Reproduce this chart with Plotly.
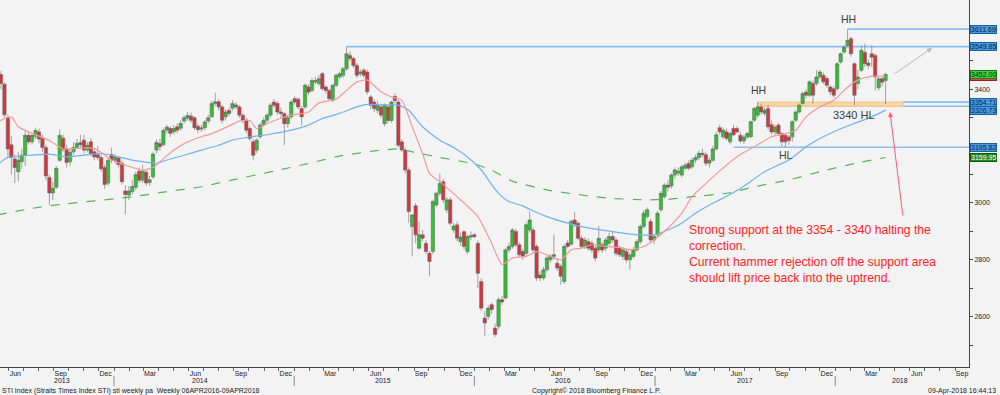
import pandas as pd
import plotly.graph_objects as go

# ---------------- data (weekly STI candles) ----------------
first_week = "2013-05-10"

opens = [
    3385, 3452, 3418, 3300, 3205, 3155, 3110, 3145, 3168, 3238,
    3215, 3235, 3250, 3228, 3195, 3090, 3035, 3055, 3150, 3228,
    3190, 3145, 3180, 3195, 3212, 3221, 3186, 3215, 3180, 3170,
    3160, 3125, 3070, 3170, 3150, 3158, 3140, 3042, 3028, 3040,
    3055, 3112, 3080, 3108, 3072, 3092, 3186, 3209, 3205, 3256,
    3262, 3250, 3268, 3263, 3288, 3298, 3306, 3300, 3270, 3260,
    3265, 3288, 3303, 3350, 3356, 3338, 3303, 3326, 3333, 3345,
    3338, 3309, 3291, 3262, 3215, 3186, 3233, 3276, 3291, 3309,
    3355, 3350, 3320, 3314, 3279, 3303, 3367, 3365, 3332, 3338,
    3408, 3396, 3431, 3420, 3455, 3408, 3396, 3362, 3414, 3443,
    3449, 3472, 3519, 3508, 3484, 3455, 3467, 3461, 3373, 3355,
    3326, 3338, 3279, 3338, 3290, 3375, 3355, 3215, 3186, 3116,
    2917, 2990, 2841, 2888, 2858, 2823, 2829, 2993, 3034, 3075,
    2976, 3011, 2905, 2923, 2864, 2899, 2829, 2880, 2888, 2858,
    2724, 2595, 2601, 2642, 2560, 2566, 2660, 2666, 2835, 2847,
    2900, 2853, 2829, 2823, 2905, 2905, 2847, 2747, 2736, 2765,
    2800, 2812, 2788, 2777, 2724, 2859, 2855, 2940, 2929, 2876,
    2847, 2864, 2858, 2841, 2835, 2853, 2841, 2858, 2882, 2870,
    2841, 2812, 2829, 2800, 2812, 2835, 2864, 2917, 2952, 2935,
    2870, 2888, 2976, 3022, 3063, 3060, 3098, 3105, 3098, 3122,
    3139, 3127, 3151, 3160, 3175, 3170, 3140, 3150, 3190, 3265,
    3233, 3250, 3215, 3262, 3262, 3238, 3218, 3232, 3233, 3291,
    3309, 3338, 3315, 3332, 3275, 3250, 3274, 3244, 3238, 3232,
    3233, 3291, 3320, 3350, 3390, 3379, 3420, 3420, 3443, 3449,
    3438, 3408, 3402, 3402, 3496, 3531, 3554, 3578, 3490, 3420,
    3467, 3530, 3492, 3525, 3519, 3405, 3437, 3431,
]
highs = [
    3462, 3465, 3425, 3310, 3235, 3170, 3180, 3190, 3255, 3250,
    3245, 3265, 3262, 3240, 3205, 3100, 3075, 3130, 3258, 3240,
    3205, 3190, 3215, 3225, 3240, 3240, 3215, 3228, 3190, 3200,
    3170, 3135, 3160, 3195, 3172, 3165, 3150, 3062, 3060, 3080,
    3110, 3125, 3135, 3115, 3095, 3180, 3225, 3225, 3262, 3275,
    3270, 3275, 3280, 3290, 3308, 3320, 3318, 3305, 3280, 3275,
    3292, 3310, 3360, 3388, 3365, 3345, 3330, 3335, 3362, 3355,
    3345, 3315, 3300, 3270, 3225, 3228, 3282, 3300, 3315, 3352,
    3365, 3358, 3335, 3320, 3310, 3362, 3375, 3372, 3340, 3420,
    3418, 3440, 3445, 3450, 3462, 3415, 3402, 3420, 3455, 3462,
    3478, 3549.85, 3535, 3515, 3492, 3470, 3475, 3470, 3380, 3365,
    3360, 3350, 3350, 3345, 3360, 3385, 3362, 3225, 3195, 3125,
    2960, 3000, 2935, 2905, 2870, 2830, 3012, 3040, 3104, 3085,
    3020, 3020, 2930, 2935, 2895, 2905, 2890, 2900, 2895, 2868,
    2735, 2620, 2640, 2650, 2575, 2668, 2672, 2842, 2860, 2912,
    2910, 2862, 2840, 2930, 2970, 2915, 2855, 2760, 2775, 2815,
    2820, 2888, 2800, 2785, 2855, 2870, 2942, 2968, 2935, 2885,
    2880, 2875, 2868, 2850, 2920, 2862, 2880, 2895, 2898, 2878,
    2850, 2845, 2838, 2825, 2845, 2872, 2925, 2975, 2985, 2945,
    2890, 2972, 3042, 3070, 3080, 3105, 3125, 3125, 3135, 3142,
    3150, 3160, 3170, 3185, 3190, 3180, 3160, 3200, 3250, 3275,
    3265, 3262, 3250, 3275, 3270, 3250, 3240, 3250, 3290, 3338,
    3354.71, 3350, 3335, 3345, 3290, 3275, 3282, 3250, 3245, 3240,
    3292, 3325, 3350, 3392, 3400, 3432, 3430, 3467, 3467, 3458,
    3445, 3415, 3410, 3495, 3530, 3555, 3611.69, 3585, 3495, 3468,
    3554, 3560, 3505, 3554, 3525, 3445, 3445, 3458,
]
lows = [
    3375, 3400, 3300, 3160, 3100, 3070, 3075, 3120, 3130, 3205,
    3205, 3225, 3210, 3180, 3080, 2993, 3010, 3050, 3145, 3180,
    3125, 3130, 3170, 3190, 3195, 3175, 3178, 3165, 3150, 3150,
    3110, 3050, 3060, 3140, 3140, 3125, 3065, 2960, 3010, 3030,
    3045, 3070, 3070, 3060, 3060, 3085, 3175, 3185, 3200, 3245,
    3232, 3240, 3245, 3255, 3280, 3290, 3282, 3255, 3245, 3250,
    3255, 3280, 3300, 3340, 3325, 3280, 3290, 3305, 3325, 3330,
    3300, 3280, 3245, 3218, 3150, 3175, 3225, 3268, 3280, 3300,
    3335, 3310, 3300, 3203, 3265, 3295, 3345, 3330, 3274, 3330,
    3380, 3390, 3418, 3412, 3395, 3385, 3360, 3355, 3408, 3435,
    3440, 3465, 3500, 3475, 3440, 3445, 3440, 3382, 3330, 3320,
    3315, 3300, 3270, 3280, 3282, 3350, 3195, 3180, 3105, 2930,
    2812, 2858, 2835, 2865, 2820, 2742, 2820, 2985, 3025, 3000,
    2965, 2920, 2895, 2865, 2850, 2835, 2820, 2870, 2875, 2700,
    2620, 2531, 2590, 2610, 2528, 2555, 2640, 2660, 2825, 2840,
    2845, 2810, 2800, 2815, 2895, 2825, 2725, 2725, 2728, 2755,
    2790, 2800, 2760, 2712, 2715, 2840, 2850, 2915, 2870, 2840,
    2838, 2832, 2825, 2795, 2825, 2825, 2830, 2850, 2860, 2812,
    2810, 2800, 2790, 2765, 2805, 2828, 2855, 2910, 2945, 2860,
    2855, 2880, 2968, 3015, 3040, 3050, 3085, 3095, 3090, 3115,
    3115, 3120, 3140, 3150, 3160, 3130, 3125, 3145, 3185, 3240,
    3225, 3220, 3205, 3235, 3245, 3210, 3208, 3225, 3228, 3285,
    3300, 3310, 3305, 3258, 3240, 3240, 3235, 3198, 3195.82, 3205,
    3215, 3285, 3315, 3345, 3368, 3372, 3350, 3412, 3435, 3418,
    3405, 3380, 3370, 3395, 3490, 3525, 3548, 3515, 3344, 3400,
    3460, 3478, 3470, 3478, 3396, 3396, 3410, 3348,
]
closes = [
    3449, 3420, 3310, 3190, 3160, 3125, 3150, 3168, 3238, 3215,
    3238, 3255, 3225, 3195, 3095, 3035, 3052, 3122, 3238, 3188,
    3142, 3178, 3195, 3210, 3205, 3186, 3203, 3174, 3162, 3160,
    3120, 3065, 3150, 3152, 3162, 3135, 3075, 3030, 3042, 3058,
    3100, 3080, 3112, 3070, 3082, 3172, 3213, 3198, 3255, 3267,
    3245, 3262, 3256, 3280, 3300, 3308, 3291, 3265, 3258, 3264,
    3285, 3300, 3350, 3356, 3338, 3291, 3320, 3315, 3350, 3338,
    3309, 3291, 3256, 3227, 3168, 3221, 3274, 3290, 3309, 3344,
    3344, 3320, 3315, 3279, 3300, 3355, 3355, 3338, 3303, 3414,
    3390, 3431, 3426, 3437, 3402, 3396, 3367, 3414, 3449, 3455,
    3472, 3525, 3508, 3484, 3449, 3461, 3449, 3391, 3344, 3332,
    3344, 3309, 3344, 3290, 3355, 3360, 3203, 3186, 3116, 2970,
    2958, 2888, 2888, 2876, 2829, 2794, 3005, 3034, 3069, 3011,
    3011, 2929, 2919, 2876, 2880, 2847, 2882, 2885, 2882, 2753,
    2630, 2578, 2630, 2625, 2537, 2660, 2652, 2835, 2847, 2905,
    2853, 2818, 2812, 2923, 2940, 2835, 2736, 2736, 2765, 2806,
    2812, 2818, 2771, 2742, 2847, 2847, 2935, 2925, 2876, 2847,
    2870, 2841, 2835, 2806, 2876, 2835, 2870, 2882, 2870, 2823,
    2818, 2835, 2800, 2817, 2835, 2864, 2917, 2964, 2976, 2870,
    2882, 2964, 3034, 3063, 3055, 3098, 3116, 3112, 3127, 3133,
    3122, 3151, 3160, 3175, 3170, 3140, 3150, 3190, 3240, 3250,
    3256, 3227, 3244, 3240, 3250, 3218, 3232, 3244, 3286, 3332,
    3338, 3320, 3326, 3268, 3250, 3267, 3244, 3215, 3215, 3220,
    3286, 3320, 3344, 3385, 3379, 3426, 3379, 3443, 3461, 3426,
    3414, 3391, 3379, 3490, 3525, 3548, 3572, 3525, 3379, 3443,
    3537, 3490, 3484, 3513, 3443, 3437, 3425, 3452,
]
assert len(opens) == len(highs) == len(lows) == len(closes) == 258

# moving averages (week index -> value)
fast_ma_week = [0, 4, 6, 10, 15, 19, 23, 28, 33, 37, 42, 45, 47, 51, 55, 59, 62, 66, 70, 73,
                75, 79, 85, 90, 93, 98, 101, 104, 107, 111, 114, 117, 120, 123, 125, 128, 133, 139, 143, 146,
                149, 153, 156, 159, 163, 166, 169, 172, 176, 180, 183, 187, 190, 194, 198, 201, 205, 209, 214, 219,
                224, 228, 231, 234, 238, 242, 245, 248, 250, 253, 257]
fast_ma_val = [3285, 3303, 3268, 3245, 3220, 3190, 3192, 3192, 3152, 3133, 3116, 3125, 3145, 3186, 3215, 3233, 3244, 3265, 3288, 3290,
               3262, 3285, 3309, 3320, 3352, 3365, 3396, 3426, 3432, 3391, 3373, 3361, 3268, 3174, 3104, 3075, 3022, 2952, 2858, 2783,
               2806, 2812, 2829, 2818, 2800, 2835, 2841, 2853, 2847, 2844, 2835, 2847, 2870, 2911, 2964, 3022, 3069, 3113, 3163, 3198,
               3233, 3244, 3256, 3303, 3338, 3361, 3396, 3426, 3437, 3446, 3446.2]
mid_ma_week = [0, 3, 10, 15, 20, 25, 30, 35, 39, 44, 46, 49, 54, 59, 64, 68, 73, 78, 85, 90,
               94, 99, 104, 107, 111, 116, 119, 123, 128, 132, 136, 140, 143, 145, 148, 152, 154, 159, 165, 169,
               178, 185, 190, 194, 198, 202, 207, 209, 215, 222, 229, 234, 238, 243, 248, 253, 257]
mid_ma_val = [3135, 3160, 3168, 3172, 3162, 3168, 3174, 3162, 3151, 3142, 3139, 3151, 3168, 3186, 3203, 3221, 3232, 3240, 3256, 3274,
              3297, 3315, 3338, 3347, 3345, 3344, 3326, 3268, 3221, 3195, 3162, 3116, 3065, 3034, 3005, 2990, 2978, 2952, 2929, 2917,
              2899, 2888, 2888, 2905, 2929, 2964, 2999, 3011, 3051, 3110, 3151, 3198, 3227, 3256, 3280, 3303, 3326.73]
slow_ma_week = [0, 10, 17, 39, 49, 59, 68, 80, 90, 99, 109, 116, 120, 128, 138, 143, 149, 159, 169, 178,
                188, 194, 201, 212, 219, 229, 238, 248, 257]
slow_ma_val = [2958, 2981, 2993, 3022, 3040, 3057, 3081, 3112, 3139, 3165, 3183, 3190, 3180, 3160, 3137, 3115, 3077, 3046, 3028, 3016,
               3011, 3013, 3022, 3036, 3057, 3081, 3110, 3139, 3159.95]

# levels
level_values = [3611.69, 3549.85, 3354.71, 3340.00, 3195.82]
level_start_week = [246, 101, None, None, 213]
support_low, support_high = 3340.00, 3354.71
support_start_week = 220
support_end = "2018-05-18"

# axis labels
x_range = ["2013-05-15", "2018-09-29"]
month_label_dates = ["2013-06-15", "2013-09-15", "2013-12-15",
                     "2014-03-15", "2014-06-15", "2014-09-15", "2014-12-15",
                     "2015-03-15", "2015-06-15", "2015-09-15", "2015-12-15",
                     "2016-03-15", "2016-06-15", "2016-09-15", "2016-12-15",
                     "2017-03-15", "2017-06-15", "2017-09-15", "2017-12-15",
                     "2018-03-15", "2018-06-15", "2018-09-15"]
month_label_text = ["Jun", "Sep", "Dec"] + ["Mar", "Jun", "Sep", "Dec"] * 4 + ["Mar", "Jun", "Sep"]
year_labels = ["2013", "2014", "2015", "2016", "2017", "2018"]
year_label_dates = ["2013-09-18", "2014-06-24", "2015-06-30", "2016-06-29", "2017-07-03", "2018-05-13"]
year_starts = ["2014-01-01", "2015-01-01", "2016-01-01", "2017-01-01", "2018-01-01"]
y_tick_vals = [2500, 2600, 2700, 2800, 2900, 3000, 3100, 3200, 3300, 3400, 3500, 3600]
y_tick_text = ["", "2600", "", "2800", "", "3000", "", "", "", "3400", "", ""]

weeks = pd.date_range(first_week, periods=len(closes), freq="7D")

BG = "#f3f3f3"
TXT_FONT = "Liberation Sans, Arial, sans-serif"
NOTE_FONT = "Liberation Sans, Arial, sans-serif"

fig = go.Figure()

fig.add_trace(go.Scatter(x=weeks[slow_ma_week], y=slow_ma_val, mode="lines",
                         line=dict(color="#56b356", width=1.2, dash="dash", shape="spline", smoothing=0.6),
                         hoverinfo="skip", showlegend=False))
fig.add_trace(go.Scatter(x=weeks[mid_ma_week], y=mid_ma_val, mode="lines",
                         line=dict(color="#6fb3ee", width=1.2, shape="spline", smoothing=0.6),
                         hoverinfo="skip", showlegend=False))
fig.add_trace(go.Scatter(x=weeks[fast_ma_week], y=fast_ma_val, mode="lines",
                         line=dict(color="#f39a9a", width=1.2, shape="spline", smoothing=0.6),
                         hoverinfo="skip", showlegend=False))

fig.add_trace(go.Candlestick(
    x=weeks, open=opens, high=highs, low=lows, close=closes,
    increasing=dict(line=dict(color="#6a6a6a", width=0.6), fillcolor="#30c030"),
    decreasing=dict(line=dict(color="#6a6a6a", width=0.6), fillcolor="#d6343c"),
    whiskerwidth=0, hoverinfo="skip", showlegend=False))

shapes = []
# support band
shapes.append(dict(type="rect", xref="x", yref="y", x0=weeks[support_start_week], x1=support_end,
                   y0=support_low, y1=support_high, fillcolor="rgba(249,206,143,0.75)",
                   line=dict(color="rgba(240,185,110,0.9)", width=1), layer="below"))
for val, sw in zip(level_values, level_start_week):
    x0 = weeks[sw] if sw is not None else support_end
    shapes.append(dict(type="line", xref="x", yref="y", x0=x0, x1=x_range[1], y0=val, y1=val,
                       line=dict(color="#8cc0f0", width=1.6), layer="below"))
for ys in year_starts:
    shapes.append(dict(type="line", xref="x", yref="paper", x0=ys, x1=ys, y0=-0.024, y1=-0.052,
                       line=dict(color="#888", width=1)))

annotations = []
# value labels on the right
def value_label(val, text, bg, border, fcolor):
    annotations.append(dict(xref="paper", yref="y", x=1, y=val, xanchor="left", yanchor="middle",
                            xshift=1, text=text, showarrow=False, bgcolor=bg, bordercolor=border,
                            borderwidth=1, borderpad=0,
                            font=dict(family=TXT_FONT, size=7, color=fcolor)))

value_label(3611.69, "3611.69", "#4a98e0", "#1d5e9c", "#0d2238")
value_label(3549.85, "3549.85", "#4a98e0", "#1d5e9c", "#0d2238")
value_label(3446.20, "3446.20", "#e04848", "#9c1d1d", "#ffffff")
value_label(3452.00, "3452.00", "#3fcf3f", "#1d7a1d", "#0d2a0d")
value_label(3340.00, "3340.00", "#4a98e0", "#1d5e9c", "#0d2238")
value_label(3354.71, "3354.71", "#4a98e0", "#1d5e9c", "#0d2238")
value_label(3326.73, "3326.73", "#4a98e0", "#1d5e9c", "#0d2238")
value_label(3195.82, "3195.82", "#4a98e0", "#1d5e9c", "#0d2238")
value_label(3159.95, "3159.95", "#1e8c1e", "#0f5a0f", "#ffffff")

# chart notes
note_style = dict(family=NOTE_FONT, size=10.5, color="#404040")
annotations += [
    dict(xref="paper", yref="paper", x=848 / 969, y=(367 - 19) / 367, xanchor="center", yanchor="middle",
         text="HH", showarrow=False, font=note_style),
    dict(xref="paper", yref="paper", x=758 / 969, y=(367 - 90) / 367, xanchor="center", yanchor="middle",
         text="HH", showarrow=False, font=note_style),
    dict(xref="paper", yref="paper", x=786 / 969, y=(367 - 155) / 367, xanchor="center", yanchor="middle",
         text="HL", showarrow=False, font=note_style),
    dict(xref="paper", yref="paper", x=854 / 969, y=(367 - 115) / 367, xanchor="center", yanchor="middle",
         text="3340 HL", showarrow=False, font=dict(family=NOTE_FONT, size=11, color="#404040")),
    dict(xref="paper", yref="paper", x=687 / 969, y=(367 - 221) / 367, xanchor="left", yanchor="top", align="left",
         text="Strong support at the 3354 - 3340 halting the<br>correction.<br>"
              "Current hammer rejection off the support area<br>should lift price back into the uptrend.",
         showarrow=False, font=dict(family=NOTE_FONT, size=12.2, color="#ff2424")),
    # arrows
    dict(xref="paper", yref="paper", x=932 / 969, y=(367 - 48) / 367, ax=-39, ay=27, text="",
         showarrow=True, arrowhead=2, arrowsize=1, arrowwidth=1, arrowcolor="#b9b9b9"),
    dict(xref="paper", yref="paper", x=890 / 969, y=(367 - 112) / 367, ax=13, ay=105, text="",
         showarrow=True, arrowhead=2, arrowsize=1, arrowwidth=1, arrowcolor="#ff5b70"),
]
# year labels
for lab, d in zip(year_labels, year_label_dates):
    annotations.append(dict(xref="x", yref="paper", x=d, y=-0.038, text=lab, showarrow=False,
                            xanchor="center", yanchor="middle", font=dict(family=TXT_FONT, size=7, color="#222")))
# footer
foot = dict(family=TXT_FONT, size=7, color="#222")
annotations += [
    dict(xref="paper", yref="paper", x=0, y=-0.066, xanchor="left", yanchor="middle", showarrow=False,
         text="STI Index (Straits Times Index STI) sti weekly pa &nbsp;Weekly 06APR2016-09APR2018", font=foot),
    dict(xref="paper", yref="paper", x=596 / 969, y=-0.066, xanchor="center", yanchor="middle", showarrow=False,
         text="Copyright\u00a9 2018 Bloomberg Finance L.P.", font=foot),
    dict(xref="paper", yref="paper", x=998 / 969, y=-0.066, xanchor="right", yanchor="middle", showarrow=False,
         text="09-Apr-2018 16:44:13", font=foot),
]

fig.update_layout(
    width=1000, height=395,
    margin=dict(l=0, r=31, t=0, b=28),
    paper_bgcolor=BG, plot_bgcolor=BG,
    showlegend=False,
    boxgap=0.05, boxgroupgap=0,
    shapes=shapes, annotations=annotations,
    font=dict(family=TXT_FONT, size=7, color="#222"),
    xaxis=dict(type="date", range=x_range, rangeslider=dict(visible=False), automargin=False,
               showgrid=False, zeroline=False, showline=True, linecolor="#444", linewidth=1,
               tickmode="array", tickvals=month_label_dates, ticktext=month_label_text, ticks="",
               tickfont=dict(family=TXT_FONT, size=7, color="#222"),
               minor=dict(ticks="outside", ticklen=3, tickcolor="#666", tickmode="linear",
                          tick0="2013-01-01", dtick="M1", showgrid=False)),
    yaxis=dict(side="right", range=[2423, 3714], automargin=False, showgrid=False, zeroline=False,
               showline=True, linecolor="#444", linewidth=1, ticks="outside", ticklen=3, tickcolor="#444",
               tickmode="array", tickvals=y_tick_vals, ticktext=y_tick_text,
               tickfont=dict(family=TXT_FONT, size=7, color="#222")),
)

fig.write_html("out.html", config={"displayModeBar": False},
               post_script="document.body.style.margin='0';document.body.style.overflow='hidden';")
